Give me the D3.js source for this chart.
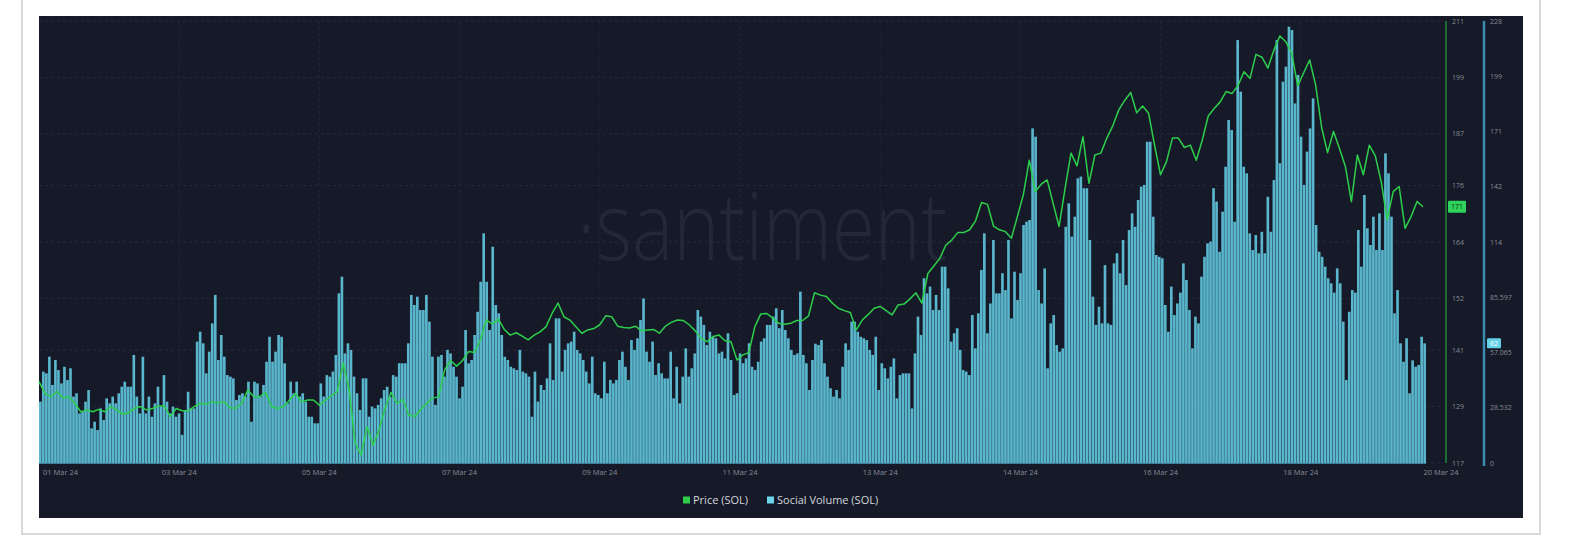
<!DOCTYPE html>
<html lang="en">
	<head>
		<meta charset="utf-8">
		<title>SOL price vs social volume</title>
		<script src="https://d3js.org/d3.v7.min.js"></script>
		<style type="text/css">
			body { margin: 0; background: #ffffff; }
			svg { display: block; font-family: "Open Sans", "DejaVu Sans", sans-serif; }
		</style>
	</head>
	<body>
		<script type="text/javascript">
			// Width and height
			var w = 1584;
			var h = 537;

			var dateLabels = ["01 Mar 24", "03 Mar 24", "05 Mar 24", "07 Mar 24", "09 Mar 24", "11 Mar 24",
				"13 Mar 24", "14 Mar 24", "16 Mar 24", "18 Mar 24", "20 Mar 24"];

			var priceTicks = [117, 129, 141, 152, 164, 176, 187, 199, 211];
			var volumeTicks = [0, 28.532, 57.065, 85.597, 114.13, 142.66, 171.19, 199.72, 228.26];

			// hourly social volume (SOL)
			var socialVolume = [
				31.7,47.2,46.3,54.9,40.3,53.2,48.0,41.1,49.7,42.9,48.9,34.3,36.0,25.6,26.5,31.7,37.7,17.9,21.3,17.0,
				28.2,22.2,33.4,30.8,34.3,30.8,36.0,39.4,42.0,39.4,39.4,55.8,34.3,25.6,54.9,25.6,34.3,23.9,30.8,39.4,
				29.1,45.4,31.7,25.6,29.1,23.9,25.6,14.5,27.4,36.8,28.2,28.2,62.7,67.8,61.8,46.3,57.5,72.1,86.8,53.2,
				66.1,54.9,45.4,44.6,43.7,32.5,35.1,36.0,34.3,42.0,21.3,42.0,41.1,34.3,40.3,52.3,65.2,52.3,57.5,66.1,
				65.2,51.5,30.8,42.0,36.0,42.0,34.3,36.0,31.7,23.9,23.9,20.5,
				20.5,41.1,34.3,45.4,44.6,47.2,55.8,87.6,96.2,56.6,61.8,58.4,44.6,36.0,27.4,43.7,43.7,23.9,29.1,28.2,
				30.0,33.4,37.7,39.4,34.3,45.4,44.6,51.5,51.5,51.5,61.8,86.8,81.6,85.9,79.0,79.0,86.8,73.0,54.9,30.0,
				54.9,55.8,44.6,58.4,56.6,49.7,44.6,33.4,39.4,68.7,51.5,53.2,66.1,78.1,93.6,118.6,93.6,68.7,111.7,81.6,
				77.3,66.1,54.9,53.2,49.7,48.9,48.0,58.4,47.2,46.3,44.6,23.9,47.2,31.7,40.3,37.7,43.7,61.8,42.9,74.7,
				74.7,47.2,58.4,61.8,62.7,67.8,58.4,56.6,53.2,47.2,41.1,54.9,36.0,
				35.1,33.4,52.3,36.0,42.9,41.1,42.9,53.2,57.5,49.7,42.9,63.5,58.4,64.4,73.8,85.0,57.5,52.3,62.7,45.4,
				51.5,46.3,43.7,43.7,57.5,33.4,49.7,30.8,44.6,59.2,44.6,48.9,56.6,79.0,75.6,71.3,60.9,67.8,65.2,64.4,
				56.6,57.5,54.0,67.0,53.2,35.1,36.0,56.6,51.5,54.0,61.8,49.7,48.0,52.3,62.7,64.4,71.3,71.3,75.6,79.9,
				69.6,79.0,68.7,64.4,58.4,55.8,56.6,88.5,55.8,51.5,37.7,53.2,61.6,60.9,63.5,51.5,44.6,38.6,34.3,37.7,
				33.4,49.7,61.8,58.4,73.0,73.0,67.8,65.2,64.4,63.5,58.4,55.8,65.2,
				37.7,51.5,48.9,43.7,49.7,54.0,33.4,45.4,46.3,46.3,46.3,28.2,56.6,75.6,66.1,95.4,87.6,91.1,79.0,86.8,
				79.0,101.4,101.4,90.2,62.7,67.0,69.6,58.4,48.0,47.2,45.4,76.4,59.2,77.3,99.7,118.6,67.0,82.4,115.2,87.6,
				87.6,98.0,89.3,115.2,74.7,98.8,84.2,98.0,122.9,124.6,125.5,172.8,168.5,89.3,82.4,100.5,48.9,72.1,76.4,60.9,
				57.5,59.2,122.0,134.1,116.9,127.2,147.0,147.9,141.9,141.9,115.2,85.9,71.3,80.7,72.1,102.2,72.1,71.3,103.1,108.3,
				98.0,115.2,91.9,120.3,128.9,122.0,135.8,142.7,143.6,165.9,165.9,127.2,107.4,
				106.5,105.7,81.6,67.8,91.1,76.4,82.4,88.0,103.1,94.5,79.0,59.2,75.6,72.1,96.2,106.5,113.4,114.3,141.9,135.0,
				109.1,129.8,153.0,177.1,172.0,124.6,218.4,191.8,153.0,149.6,118.6,110.0,117.7,108.3,119.4,108.3,137.5,119.4,146.1,218.4,
				154.8,196.9,204.7,225.3,223.6,185.7,200.4,168.5,143.6,160.8,172.8,188.3,122.9,109.1,106.5,101.4,95.4,92.8,88.0,100.5,
				92.8,73.0,42.9,78.1,89.3,88.0,120.3,101.4,138.4,121.2,112.6,127.2,110.0,128.9,110.0,159.9,149.6,127.2,77.3,89.3,
				61.8,52.3,64.4,36.0,53.0,49.7,50.6,65.2,61.8
			];

			// price (SOL), every 2 hours
			var price = [
				134.3,131.8,131.1,132.2,130.8,131.1,129.7,127.9,128.3,127.9,128.4,127.9,129.0,128.3,127.4,127.7,128.6,129.0,128.3,128.6,
				129.1,129.1,126.9,128.6,128.1,128.1,129.0,129.7,129.5,130.0,129.8,130.0,128.8,128.6,129.7,132.5,131.1,131.1,132.0,129.0,
				128.6,129.0,130.4,131.8,130.0,130.4,130.4,
				129.3,130.3,131.3,132.2,138.2,132.5,121.2,118.7,124.7,120.8,124.0,128.6,132.0,129.7,130.5,127.2,126.9,128.4,129.7,130.8,
				131.1,136.8,138.8,137.6,138.8,140.7,140.5,143.2,147.4,146.6,147.6,145.4,144.2,144.7,144.0,143.2,144.2,144.9,146.0,148.8,
				151.0,148.1,147.4,146.0,144.6,145.3,145.6,
				146.4,148.3,148.1,146.1,145.8,145.7,146.1,145.1,145.3,145.4,144.6,146.1,146.9,147.4,147.3,146.4,145.1,143.5,142.8,143.9,
				144.2,143.0,142.8,138.9,140.0,140.5,146.0,148.7,148.8,147.8,146.7,146.5,146.7,147.3,147.3,148.3,153.2,152.7,152.4,151.0,
				149.9,149.4,149.0,145.3,147.4,148.6,149.9,
				150.3,149.4,148.5,150.6,150.8,151.9,153.2,151.0,157.3,158.9,160.5,163.3,164.4,166.0,166.0,166.6,168.5,172.4,172.0,167.4,
				166.6,166.2,164.8,169.4,174.0,181.4,174.7,176.3,177.2,172.2,167.3,175.4,182.9,180.2,186.4,176.5,182.5,182.9,186.1,188.7,
				192.1,194.1,195.8,191.5,192.9,191.4,184.6,
				178.3,181.1,186.1,186.1,184.1,184.6,181.4,185.7,190.8,192.4,193.8,196.0,195.6,197.3,200.2,198.8,203.9,203.3,201.0,204.8,
				207.8,206.6,204.1,197.2,200.0,202.7,197.4,188.4,183.0,187.5,183.9,180.0,172.6,182.5,178.3,184.6,182.3,176.8,168.7,174.7,
				175.8,166.9,169.4,172.6,171.5
			];

			// plot box
			var plotL = 39, plotR = 1426, plotT = 21, plotB = 463;

			var svg = d3.select("body")
						.append("svg")
						.attr("width", w)
						.attr("height", h);

			// outer frame + dark panel
			svg.append("rect")
				.attr("x", 22).attr("y", -10)
				.attr("width", 1518).attr("height", 544)
				.attr("fill", "#ffffff")
				.attr("stroke", "#d9d9d9")
				.attr("stroke-width", 2);
			svg.append("rect")
				.attr("x", 39).attr("y", 16)
				.attr("width", 1484).attr("height", 502)
				.attr("fill", "#161a28");

			// scales
			var xband = d3.scaleBand()
						.domain(d3.range(socialVolume.length))
						.range([plotL, plotR])
						.paddingInner(0.12);
			var xprice = d3.scaleLinear()
						.domain([0, price.length - 1])
						.range([plotL, 1423]);
			var xtick = d3.scaleLinear()
						.domain([0, dateLabels.length - 1])
						.range([plotL, 1441]);
			var yprice = d3.scaleLinear()
						.domain([117, 211])
						.range([plotB, plotT]);
			var yvol = d3.scaleLinear()
						.domain([0, 228.26])
						.range([plotB, plotT]);

			// watermark
			svg.append("text")
				.attr("x", 577)
				.attr("y", 260)
				.attr("textLength", 370)
				.attr("lengthAdjust", "spacingAndGlyphs")
				.attr("font-size", "94px")
				.attr("font-weight", 300)
				.attr("fill", "#232839")
				.text("\u00B7santiment");

			// grid
			svg.selectAll("line.hgrid")
				.data(priceTicks)
				.enter()
				.append("line")
				.attr("class", "hgrid")
				.attr("x1", plotL).attr("x2", 1441)
				.attr("y1", function(d) { return yprice(d); })
				.attr("y2", function(d) { return yprice(d); })
				.attr("stroke", "#252a3b")
				.attr("stroke-width", 1)
				.attr("stroke-dasharray", "3,3");
			svg.selectAll("line.vgrid")
				.data(dateLabels.slice(1, dateLabels.length - 1))
				.enter()
				.append("line")
				.attr("class", "vgrid")
				.attr("x1", function(d, i) { return xtick(i + 1); })
				.attr("x2", function(d, i) { return xtick(i + 1); })
				.attr("y1", plotT).attr("y2", plotB)
				.attr("stroke", "#222737")
				.attr("stroke-width", 1)
				.attr("stroke-dasharray", "3,3");

			// social volume bars
			svg.selectAll("rect.bar")
				.data(socialVolume)
				.enter()
				.append("rect")
				.attr("class", "bar")
				.attr("x", function(d, i) { return xband(i); })
				.attr("y", function(d) { return yvol(d); })
				.attr("width", xband.bandwidth())
				.attr("height", function(d) { return plotB - yvol(d); })
				.attr("fill", "#5ab6cc");

			svg.append("line")
				.attr("x1", plotL).attr("x2", plotR)
				.attr("y1", plotB + 0.5).attr("y2", plotB + 0.5)
				.attr("stroke", "#3d7d96")
				.attr("stroke-width", 1);

			// price line
			var line = d3.line()
						.x(function(d, i) { return xprice(i); })
						.y(function(d) { return yprice(d); });
			svg.append("path")
				.datum(price)
				.attr("d", line)
				.attr("fill", "none")
				.attr("stroke", "#2ccf4b")
				.attr("stroke-width", 1.5)
				.attr("stroke-linejoin", "round");

			// right axes
			svg.append("line")
				.attr("x1", 1446).attr("x2", 1446)
				.attr("y1", plotT).attr("y2", plotB)
				.attr("stroke", "#1e8a3a")
				.attr("stroke-width", 1.5);
			svg.append("line")
				.attr("x1", 1484).attr("x2", 1484)
				.attr("y1", plotT).attr("y2", plotB + 3)
				.attr("stroke", "#3b8db0")
				.attr("stroke-width", 2.5);

			svg.selectAll("text.ptick")
				.data(priceTicks)
				.enter()
				.append("text")
				.attr("class", "ptick")
				.attr("x", 1452)
				.attr("y", function(d) { return yprice(d) + 2.5; })
				.attr("font-size", "7px")
				.attr("fill", "#858a97")
				.text(function(d) { return d; });
			svg.selectAll("text.vtick")
				.data(volumeTicks)
				.enter()
				.append("text")
				.attr("class", "vtick")
				.attr("x", 1490)
				.attr("y", function(d) { return yvol(d) + 2.5; })
				.attr("font-size", "7px")
				.attr("fill", "#858a97")
				.text(function(d) {
					if (d === 0) return "0";
					return d >= 100 ? Math.floor(d) : d.toFixed(3);
				});

			// x labels
			svg.selectAll("text.xtick")
				.data(dateLabels)
				.enter()
				.append("text")
				.attr("class", "xtick")
				.attr("x", function(d, i) { return i === 0 ? xtick(i) + 4 : xtick(i); })
				.attr("y", 475)
				.attr("text-anchor", function(d, i) { return i === 0 ? "start" : "middle"; })
				.attr("font-size", "7.5px")
				.attr("fill", "#858a97")
				.text(function(d) { return d; });

			// last value badges
			var lastPrice = price[price.length - 1];
			var lastVol = socialVolume[socialVolume.length - 1];
			svg.append("rect")
				.attr("x", 1448).attr("y", yprice(lastPrice) - 6)
				.attr("width", 18).attr("height", 12)
				.attr("rx", 1)
				.attr("fill", "#2fd25a");
			svg.append("text")
				.attr("x", 1457).attr("y", yprice(lastPrice) + 2.5)
				.attr("text-anchor", "middle")
				.attr("font-size", "7px")
				.attr("fill", "#0f2a18")
				.text(Math.floor(lastPrice));
			svg.append("rect")
				.attr("x", 1487).attr("y", yvol(lastVol) - 5)
				.attr("width", 14).attr("height", 10)
				.attr("rx", 1)
				.attr("fill", "#62d2e8");
			svg.append("text")
				.attr("x", 1494).attr("y", yvol(lastVol) + 2.5)
				.attr("text-anchor", "middle")
				.attr("font-size", "7px")
				.attr("fill", "#ffffff")
				.text(Math.round(lastVol));

			// legend
			var legend = [["Price (SOL)", "#2ecc48", 683], ["Social Volume (SOL)", "#6dd6ea", 767]];
			var lg = svg.selectAll("g.legend")
				.data(legend)
				.enter()
				.append("g")
				.attr("class", "legend");
			lg.append("rect")
				.attr("x", function(d) { return d[2]; })
				.attr("y", 496.5)
				.attr("width", 7).attr("height", 7)
				.attr("fill", function(d) { return d[1]; });
			lg.append("text")
				.attr("x", function(d) { return d[2] + 10; })
				.attr("y", 504)
				.attr("font-size", "11px")
				.attr("fill", "#d4d7de")
				.text(function(d) { return d[0]; });
		</script>
	</body>
</html>
